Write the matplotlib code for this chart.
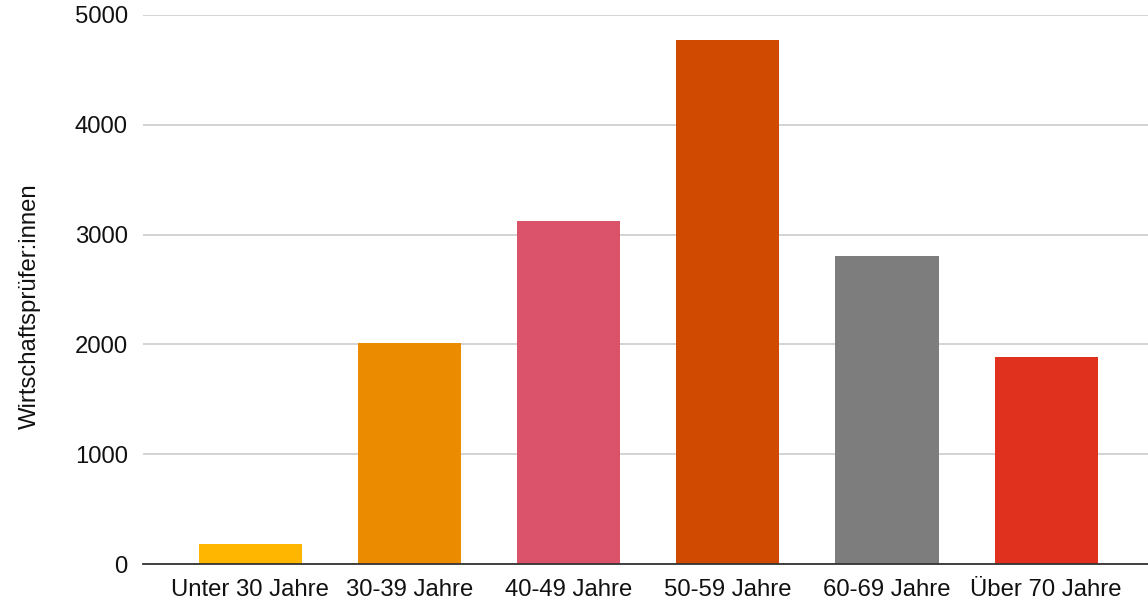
import numpy as np
import matplotlib.pyplot as plt

# Altersverteilung Wirtschaftsprüfer:innen
categories = ['Unter 30 Jahre', '30-39 Jahre', '40-49 Jahre', '50-59 Jahre', '60-69 Jahre', 'Über 70 Jahre']
values = [185, 2015, 3127, 4772, 2805, 1888]
colors = ['#FFB600', '#EB8C00', '#DB536A', '#D04A02', '#7D7D7D', '#E0301E']
yticks = [0, 1000, 2000, 3000, 4000, 5000]

plt.rcParams['font.family'] = ['Liberation Sans', 'DejaVu Sans']

fig = plt.figure(figsize=(11.48, 6.06), dpi=100)
ax = fig.add_axes([0.1246, 0.0693, 0.88, 0.906])

x = np.arange(len(categories))
ax.bar(x, values, width=0.648, color=colors, zorder=3)

ax.set_xlim(-0.673, len(categories) - 1 + 0.673)
ax.set_ylim(0, 5000)
ax.set_yticks(yticks)
ax.set_xticks(x)
ax.set_xticklabels(categories)
ax.tick_params(axis='both', length=0, labelsize=17.2, colors='#111111')
ax.tick_params(axis='y', pad=11)
ax.tick_params(axis='x', pad=11)

ax.grid(axis='y', color='#cccccc', lw=1.2, zorder=0)
for s in ['top', 'right', 'left']:
    ax.spines[s].set_visible(False)
ax.spines['bottom'].set_color('#333333')
ax.spines['bottom'].set_linewidth(1.3)
ax.spines['bottom'].set_zorder(4)

ax.set_ylabel('Wirtschaftsprüfer:innen', size=17.2, color='#111111')
ax.yaxis.set_label_coords(-0.101, 0.47)

fig.savefig('out.png', dpi=100)
